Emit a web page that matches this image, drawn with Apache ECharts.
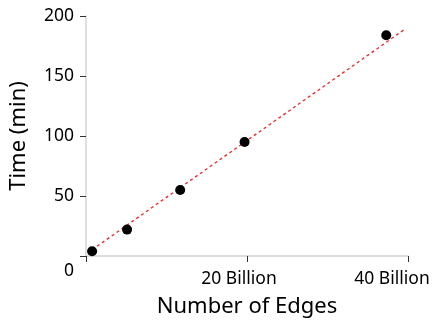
<!DOCTYPE html>
<html><head><meta charset="utf-8">
<script src="https://cdn.jsdelivr.net/npm/echarts@6/dist/echarts.min.js"></script>
<style>html,body{margin:0;padding:0;background:#fff}#c{width:435px;height:323px}</style>
</head><body><div id="c"></div>
<script>
const edgesBillion = [0.76, 5.1, 11.7, 19.7, 37.3];
const timeMin = [4, 22, 55, 95, 184];
const fitX = [0.76, 39.6];
const fitY = [5.2, 189];
const xTicks = [0, 20, 40];
const yTicks = [0, 50, 100, 150, 200];

const font = '"Noto Sans", "Open Sans", sans-serif';
const chart = echarts.init(document.getElementById('c'), null, {renderer: 'canvas'});
chart.setOption({
  animation: false,
  grid: {left: 86, top: 16, right: 27, bottom: 63, containLabel: false},
  xAxis: {
    type: 'value', min: xTicks[0], max: xTicks[xTicks.length - 1], interval: 20,
    name: 'Number of Edges', nameLocation: 'middle', nameGap: 40,
    nameTextStyle: {fontFamily: font, fontSize: 22, color: '#000'},
    axisLine: {show: true, lineStyle: {color: '#d4d4d4', width: 1.5}},
    axisTick: {show: true, length: 6, lineStyle: {color: '#333'}},
    splitLine: {show: false},
    axisLabel: {
      margin: 14, fontFamily: font, fontSize: 17.5, color: '#000',
      formatter: v => v === 0 ? '' : (v === 20 ? '{a|' + v + ' Billion}' : '{b|' + v + ' Billion}'),
      rich: {a: {fontFamily: font, fontSize: 17.5, color: '#000', padding: [0, 16, 0, 0]},
             b: {fontFamily: font, fontSize: 17.5, color: '#000', padding: [0, 32, 0, 0]}}
    }
  },
  yAxis: {
    type: 'value', min: yTicks[0], max: yTicks[yTicks.length - 1], interval: 50,
    name: 'Time (min)', nameLocation: 'middle', nameGap: 56, nameRotate: 90,
    nameTextStyle: {fontFamily: font, fontSize: 22, color: '#000'},
    axisLine: {show: true, lineStyle: {color: '#d4d4d4', width: 1.5}},
    axisTick: {show: true, length: 6, lineStyle: {color: '#333'}},
    splitLine: {show: false},
    axisLabel: {
      margin: 12, fontFamily: font, fontSize: 17.5, color: '#000',
      formatter: v => v === 0 ? '{z|0}' : String(v),
      rich: {z: {fontFamily: font, fontSize: 17.5, color: '#000', padding: [30, 0, 0, 0]}}
    }
  },
  series: [
    {
      type: 'line', data: fitX.map((x, i) => [x, fitY[i]]), showSymbol: false, symbol: 'none',
      lineStyle: {color: '#ff2020', width: 1.3, type: [3, 3]}, z: 1
    },
    {
      type: 'scatter', data: edgesBillion.map((x, i) => [x, timeMin[i]]),
      symbolSize: 10, itemStyle: {color: '#000', opacity: 1}, z: 2
    }
  ]
});
</script></body></html>
